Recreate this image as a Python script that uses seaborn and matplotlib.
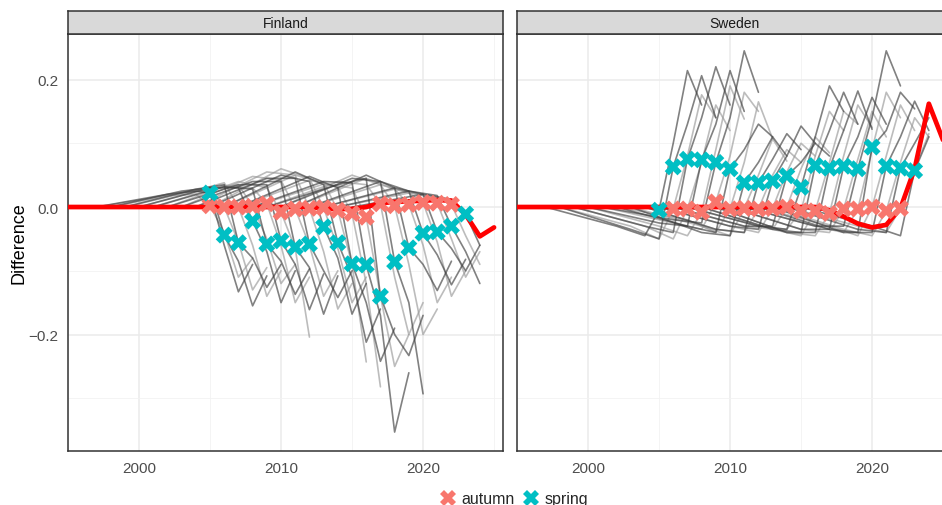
import numpy as np
import pandas as pd
import matplotlib
matplotlib.use("Agg")
import matplotlib.pyplot as plt
from matplotlib.lines import Line2D
import seaborn as sns

sns.set_style("white")
plt.rcParams["font.family"] = ["Liberation Sans", "DejaVu Sans"]

nan = np.nan

# ---- final (latest) estimate, 1995-2025 ----
final_years = list(range(1995, 2026))
fin_final = [0.0] * 18 + [-0.002, -0.003, -0.003, 0.0, 0.006, 0.008, 0.009, 0.010,
                          0.011, 0.010, -0.012, -0.046, -0.032]
swe_final = [0.0] * 22 + [-0.005, -0.015, -0.026, -0.032, -0.028, -0.002, 0.060,
                          0.162, 0.105]

# ---- Finland, spring vintages ----
fin_spring_years = list(range(2005, 2024))
fin_spring_point = [0.022, -0.044, -0.056, -0.022, -0.058, -0.053, -0.063, -0.058, -0.031,
                    -0.056, -0.089, -0.091, -0.140, -0.086, -0.064, -0.041, -0.039, -0.030, -0.011]
fin_spring_hist = [0.020, 0.025, 0.028, 0.030, 0.032, 0.035, 0.040, 0.045, 0.050, 0.055,
                   0.048, 0.040, 0.035, 0.045, 0.050, 0.040, 0.030, 0.025, 0.020]
fin_spring_pre = [0.025, 0.030, 0.035, 0.030, 0.028, 0.035, 0.040, 0.045, 0.040, 0.035,
                  0.030, 0.038, 0.045, 0.040, 0.030, 0.025, 0.020, 0.018, 0.012]
fin_spring_next = [-0.060, -0.085, -0.080, -0.070, -0.085, -0.090, -0.095, -0.100, -0.080,
                   -0.110, -0.150, -0.170, -0.200, -0.150, -0.090, -0.075, -0.065, -0.070, -0.060]
fin_spring_ext = [-0.133, -0.155, -0.126, -0.150, -0.137, -0.161, -0.168, -0.142, -0.168,
                  -0.212, -0.242, -0.353, -0.233, -0.293, -0.131, -0.122, -0.100, -0.120, nan]
fin_spring_last = [-0.090, -0.108, -0.090, -0.100, -0.097, -0.105, -0.108, -0.100, -0.120,
                   -0.160, -0.190, -0.260, -0.170, nan, -0.085, -0.082, -0.060, nan, nan]

# ---- Finland, autumn vintages ----
fin_autumn_years = list(range(2005, 2023))
fin_autumn_point = [0.002, 0.000, 0.000, 0.001, 0.005, -0.008, -0.003, -0.002, -0.001,
                    -0.005, -0.010, -0.016, 0.005, 0.002, 0.004, 0.007, 0.006, 0.004]
fin_autumn_hist = [0.018, 0.022, 0.026, 0.030, 0.034, 0.040, 0.048, 0.055, 0.060,
                   0.050, 0.042, 0.036, 0.040, 0.050, 0.045, 0.035, 0.028, 0.022]
fin_autumn_pre = [0.020, 0.028, 0.038, 0.035, 0.030, 0.030, 0.042, 0.050, 0.045,
                  0.038, 0.032, 0.030, 0.035, 0.035, 0.028, 0.022, 0.018, 0.015]
fin_autumn_next = [-0.040, -0.055, -0.060, -0.050, -0.060, -0.065, -0.060, -0.070, -0.065,
                   -0.090, -0.120, -0.140, -0.110, -0.090, -0.060, -0.055, -0.050, -0.045]
fin_autumn_ext = [-0.110, -0.130, -0.140, -0.120, -0.150, -0.204, -0.140, -0.160, -0.150,
                  -0.243, -0.282, -0.250, -0.200, -0.200, -0.150, -0.140, -0.110, -0.090]
fin_autumn_last = [-0.080, -0.095, -0.100, -0.090, -0.110, nan, -0.100, -0.120, -0.110,
                   nan, nan, -0.200, -0.150, -0.160, -0.110, -0.100, -0.070, nan]

# ---- Sweden, spring vintages ----
swe_spring_years = list(range(2005, 2024))
swe_spring_point = [-0.005, 0.063, 0.075, 0.074, 0.070, 0.060, 0.038, 0.038, 0.041, 0.049,
                    0.031, 0.065, 0.061, 0.064, 0.060, 0.094, 0.064, 0.061, 0.057]
swe_spring_hist = [-0.030, -0.035, -0.030, -0.025, -0.020, -0.030, -0.040, -0.035, -0.030,
                   -0.030, -0.030, -0.035, -0.040, -0.035, -0.030, -0.035, -0.040, -0.035, -0.030]
swe_spring_pre = [-0.045, -0.050, -0.040, -0.030, -0.025, -0.040, -0.045, -0.040, -0.035,
                  -0.030, -0.035, -0.040, -0.040, -0.035, -0.030, -0.040, -0.040, -0.040, -0.045]
swe_spring_next = [0.100, 0.130, 0.140, 0.130, 0.140, 0.090, 0.070, 0.075, 0.080, 0.070,
                   0.110, 0.120, 0.120, 0.110, 0.140, 0.120, 0.110, 0.100, 0.110]
swe_spring_ext = [0.214, 0.206, 0.220, 0.214, 0.245, 0.130, 0.110, 0.115, 0.127, 0.100,
                  0.190, 0.180, 0.182, 0.172, 0.245, 0.180, 0.166, 0.140, nan]
swe_spring_last = [0.160, 0.140, 0.160, 0.150, 0.180, 0.110, 0.080, 0.090, 0.100, 0.080,
                   0.150, 0.130, 0.122, 0.130, 0.190, 0.154, 0.120, nan, nan]

# ---- Sweden, autumn vintages ----
swe_autumn_years = list(range(2006, 2023))
swe_autumn_point = [-0.003, -0.003, -0.008, 0.008, -0.003, -0.002, -0.003, -0.002, 0.000,
                    -0.006, -0.006, -0.010, -0.003, -0.003, 0.000, -0.006, -0.002]
swe_autumn_hist = [-0.030, -0.030, -0.030, -0.025, -0.020, -0.030, -0.035, -0.030, -0.030,
                   -0.030, -0.035, -0.040, -0.035, -0.030, -0.030, -0.035, -0.030]
swe_autumn_pre = [-0.050, -0.050, -0.045, -0.035, -0.040, -0.045, -0.040, -0.040, -0.035,
                  -0.035, -0.045, -0.045, -0.040, -0.040, -0.045, -0.045, -0.040]
swe_autumn_next = [0.080, 0.070, 0.090, 0.080, 0.070, 0.050, 0.050, 0.055, 0.060,
                   0.080, 0.070, 0.080, 0.075, 0.090, 0.080, 0.070, 0.060]
swe_autumn_ext = [0.176, 0.160, 0.190, 0.180, 0.165, 0.107, 0.090, 0.100, 0.110,
                  0.150, 0.150, 0.160, 0.150, 0.180, 0.160, 0.140, 0.115]
swe_autumn_last = [0.140, 0.120, 0.138, 0.150, 0.107, 0.072, 0.070, 0.080, 0.085,
                   0.120, 0.130, 0.125, 0.110, 0.140, 0.120, 0.110, nan]

FIRST_YEAR = 1997   # earliest year any vintage path departs from the final estimate
LEAD = 8            # years before the vintage at which its path leaves zero
LAST_YEAR = 2024


def vintage_rows(country, season, years, point, hist, pre, nxt, ext, last):
    rows = []
    for i, v in enumerate(years):
        knots = [(max(FIRST_YEAR, v - LEAD), 0.0), (v - 3, hist[i]), (v - 1, pre[i]),
                 (v, point[i]), (v + 1, nxt[i]), (v + 2, ext[i]), (v + 3, last[i])]
        for yr, val in knots:
            if yr <= LAST_YEAR and not np.isnan(val):
                rows.append({"country": country, "season": season,
                             "vintage": f"{season} {v}", "year": yr, "value": val})
    return rows


paths = pd.DataFrame(
    vintage_rows("Finland", "autumn", fin_autumn_years, fin_autumn_point, fin_autumn_hist,
                 fin_autumn_pre, fin_autumn_next, fin_autumn_ext, fin_autumn_last)
    + vintage_rows("Finland", "spring", fin_spring_years, fin_spring_point, fin_spring_hist,
                   fin_spring_pre, fin_spring_next, fin_spring_ext, fin_spring_last)
    + vintage_rows("Sweden", "autumn", swe_autumn_years, swe_autumn_point, swe_autumn_hist,
                   swe_autumn_pre, swe_autumn_next, swe_autumn_ext, swe_autumn_last)
    + vintage_rows("Sweden", "spring", swe_spring_years, swe_spring_point, swe_spring_hist,
                   swe_spring_pre, swe_spring_next, swe_spring_ext, swe_spring_last)
)

points = pd.concat([
    pd.DataFrame({"country": "Finland", "season": "autumn", "year": fin_autumn_years, "value": fin_autumn_point}),
    pd.DataFrame({"country": "Finland", "season": "spring", "year": fin_spring_years, "value": fin_spring_point}),
    pd.DataFrame({"country": "Sweden", "season": "autumn", "year": swe_autumn_years, "value": swe_autumn_point}),
    pd.DataFrame({"country": "Sweden", "season": "spring", "year": swe_spring_years, "value": swe_spring_point}),
], ignore_index=True)

finals = {"Finland": fin_final, "Sweden": swe_final}

W, H = 942, 506
fig = plt.figure(figsize=(W / 100, H / 100), dpi=100)

panel_px = {"Finland": 68, "Sweden": 517}
panel_w, panel_top, panel_bot, strip_top = 435, 35, 452, 12

season_grey = {"spring": "#3d3d3d", "autumn": "#999999"}
season_col = {"autumn": "#F8766D", "spring": "#00BFC4"}

xlim = (1995.0, 2025.63)
ylim = (-0.3827, 0.2714)

for country in ["Finland", "Sweden"]:
    x0 = panel_px[country]
    ax = fig.add_axes([x0 / W, (H - panel_bot) / H, panel_w / W, (panel_bot - panel_top) / H])
    ax.set_facecolor("white")

    sns.lineplot(data=paths[paths.country == country], x="year", y="value", hue="season",
                 units="vintage", estimator=None, palette=season_grey, linewidth=1.2,
                 alpha=0.65, legend=False, ax=ax, zorder=2)
    sns.lineplot(x=final_years, y=finals[country], color="#FF0000", linewidth=3.4,
                 ax=ax, zorder=3)
    sns.scatterplot(data=points[points.country == country], x="year", y="value",
                    hue="season", palette=season_col, marker="X", s=150, linewidth=0,
                    legend=False, ax=ax, zorder=4)

    ax.set_xlim(*xlim)
    ax.set_ylim(*ylim)
    ax.set_xticks([2000, 2010, 2020])
    ax.set_xticks([1995, 2005, 2015, 2025], minor=True)
    ax.set_yticks([-0.2, 0.0, 0.2])
    ax.set_yticks([-0.3, -0.1, 0.1], minor=True)
    ax.grid(which="major", color="#EBEBEB", linewidth=1.1, zorder=0)
    ax.grid(which="minor", color="#F2F2F2", linewidth=0.6, zorder=0)
    ax.set_axisbelow(True)
    for sp in ax.spines.values():
        sp.set_color("#333333")
        sp.set_linewidth(1.1)
    ax.tick_params(axis="both", which="major", length=3.5, width=0.9, color="#333333",
                   labelsize=11, labelcolor="#4D4D4D", pad=3.5)
    ax.tick_params(axis="both", which="minor", length=0)
    ax.set_xlabel("")
    if country == "Finland":
        ax.set_yticklabels(["\u22120.2", "0.0", "0.2"])
        ax.set_ylabel("Difference", fontsize=13, color="black", labelpad=0.5)
    else:
        ax.tick_params(axis="y", which="major", length=0, labelleft=False)
        ax.set_ylabel("")

    sax = fig.add_axes([x0 / W, (H - panel_top) / H, panel_w / W, (panel_top - strip_top) / H])
    sax.set_facecolor("#D9D9D9")
    sax.set_xticks([])
    sax.set_yticks([])
    for sp in sax.spines.values():
        sp.set_color("#333333")
        sp.set_linewidth(1.1)
    sax.text(0.5, 0.5, country, ha="center", va="center", fontsize=10, color="#1A1A1A",
             transform=sax.transAxes)

handles = [Line2D([], [], marker="X", linestyle="", markersize=12, markeredgewidth=0,
                  color=season_col[s], label=s) for s in ["autumn", "spring"]]
fig.legend(handles=handles, loc="center", bbox_to_anchor=(514 / W, 6 / H), ncol=2,
           frameon=False, fontsize=11.5, handletextpad=0.35, columnspacing=0.55,
           handlelength=1.0, borderpad=0)

fig.savefig("out.png", dpi=100)
